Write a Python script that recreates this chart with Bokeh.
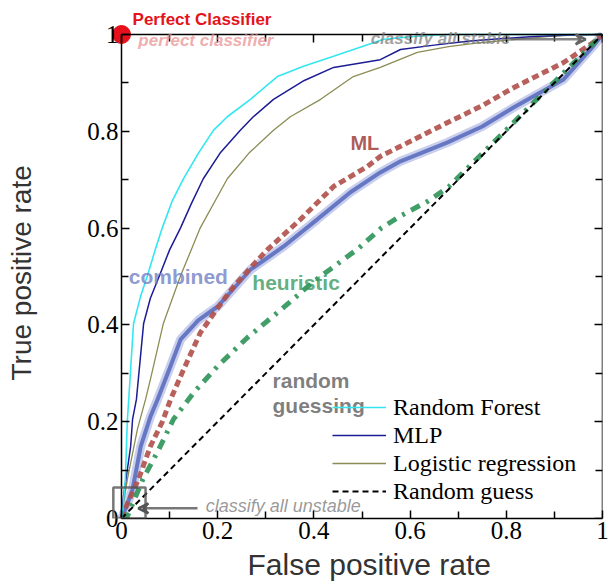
from bokeh.plotting import figure
from bokeh.models import (Label, Legend, LegendItem, FixedTicker, LinearAxis, Arrow,
                          VeeHead, BoxAnnotation, Range1d, CustomLabelingPolicy, Title)
from bokeh.embed import file_html
from bokeh.resources import INLINE

# ---- data ----
rf_fpr = [0, 0.002, 0.008, 0.012, 0.015, 0.025, 0.04, 0.054, 0.07, 0.085, 0.105, 0.129, 0.16,
          0.191, 0.22, 0.268, 0.324, 0.38, 0.441, 0.545, 0.62, 0.68, 0.8, 1.0]
rf_tpr = [0, 0.012, 0.08, 0.2, 0.246, 0.403, 0.46, 0.502, 0.555, 0.601, 0.655, 0.702, 0.755,
          0.802, 0.83, 0.866, 0.913, 0.935, 0.955, 0.99, 0.997, 1.0, 1.0, 1.0]

mlp_fpr = [0, 0.004, 0.012, 0.019, 0.023, 0.031, 0.046, 0.06, 0.079, 0.1, 0.123, 0.145, 0.17,
           0.205, 0.247, 0.274, 0.316, 0.38, 0.441, 0.538, 0.58, 0.65, 0.719, 0.8, 0.857, 0.93, 1.0]
mlp_tpr = [0, 0.045, 0.1, 0.149, 0.205, 0.246, 0.403, 0.455, 0.502, 0.555, 0.601, 0.65, 0.702,
           0.755, 0.802, 0.83, 0.866, 0.905, 0.932, 0.948, 0.969, 0.978, 0.986, 0.992, 0.996, 0.999, 1.0]

lr_fpr = [0, 0.004, 0.012, 0.033, 0.05, 0.06, 0.087, 0.123, 0.164, 0.22, 0.265, 0.316, 0.351,
          0.414, 0.482, 0.538, 0.615, 0.68, 0.746, 0.89, 0.95, 1.0]
lr_tpr = [0, 0.03, 0.08, 0.184, 0.246, 0.287, 0.403, 0.502, 0.601, 0.702, 0.755, 0.802, 0.83,
          0.866, 0.913, 0.932, 0.963, 0.975, 0.983, 0.996, 0.999, 1.0]

ml_fpr = [0, 0.012, 0.035, 0.06, 0.085, 0.102, 0.13, 0.164, 0.2, 0.233, 0.27, 0.304, 0.372,
          0.441, 0.511, 0.538, 0.58, 0.678, 0.75, 0.815, 0.919, 0.98, 1.0]
ml_tpr = [0, 0.03, 0.08, 0.149, 0.2, 0.246, 0.31, 0.384, 0.435, 0.479, 0.52, 0.556, 0.618,
          0.686, 0.727, 0.748, 0.769, 0.818, 0.853, 0.89, 0.942, 0.983, 1.0]

comb_fpr = [0, 0.01, 0.023, 0.04, 0.06, 0.075, 0.1, 0.123, 0.16, 0.2, 0.268, 0.337, 0.407,
            0.476, 0.538, 0.58, 0.678, 0.75, 0.815, 0.919, 0.98, 1.0]
comb_tpr = [0, 0.025, 0.06, 0.149, 0.21, 0.246, 0.31, 0.37, 0.41, 0.438, 0.514, 0.562, 0.618,
            0.674, 0.715, 0.738, 0.777, 0.81, 0.849, 0.907, 0.975, 1.0]

heur_fpr = [0, 0.012, 0.044, 0.075, 0.108, 0.15, 0.2, 0.262, 0.337, 0.4, 0.49, 0.54, 0.58,
            0.636, 0.68, 0.8, 0.9, 1.0]
heur_tpr = [0, 0.004, 0.08, 0.138, 0.205, 0.26, 0.315, 0.374, 0.436, 0.49, 0.556, 0.6, 0.625,
            0.655, 0.685, 0.803, 0.902, 1.0]

rand_fpr = [0, 1]
rand_tpr = [0, 1]

perfect_x = [0]
perfect_y = [1]

ticks = [0, 0.2, 0.4, 0.6, 0.8, 1]
minor_ticks = [0.1, 0.3, 0.5, 0.7, 0.9]
tick_labels = ["0", "0.2", "0.4", "0.6", "0.8", "1"]

legend_names = ["Random Forest", "MLP", "Logistic regression", "Random guess"]

x_title = "False positive rate"
y_title = "True positive rate"

# ---- figure ----
# frame slightly larger than the unit square so the corner marker is not clipped
p = figure(width=610, height=582, output_backend="svg", toolbar_location=None,
           x_range=Range1d(-0.0208, 1.0), y_range=Range1d(0, 1.0702),
           min_border_left=111, min_border_right=8, min_border_top=0, min_border_bottom=64,
           title=None)
p.background_fill_color = "white"
p.border_fill_color = "white"
p.outline_line_color = None
p.grid.visible = False

no_labels = CustomLabelingPolicy(code="for (const i of indices) indices.unset(i)")

def style_axis(ax):
    ax.ticker = FixedTicker(ticks=ticks, minor_ticks=minor_ticks)
    ax.bounds = (0, 1)
    ax.axis_line_color = "black"
    ax.axis_line_width = 1.5
    ax.major_tick_line_width = 1.5
    ax.minor_tick_line_width = 1.5
    ax.major_tick_line_color = "black"
    ax.minor_tick_line_color = "black"

def tick_only_axis(loc, **kw):
    ax = LinearAxis(major_label_policy=no_labels, major_label_text_font_size="1px",
                    major_label_standoff=0, **kw)
    style_axis(ax)
    p.add_layout(ax, loc)
    return ax

def spacer_axis(loc, size):
    # draws nothing visible; its invisible outward tick only reserves `size` pixels
    ax = LinearAxis(ticker=FixedTicker(ticks=[0.5], minor_ticks=[]), axis_line_color=None,
                    major_tick_line_color=None, minor_tick_line_color=None,
                    major_tick_in=0, major_tick_out=size, minor_tick_in=0, minor_tick_out=0,
                    major_label_standoff=0, major_label_text_font_size="1px",
                    major_label_policy=no_labels)
    p.add_layout(ax, loc)
    return ax

# bottom axis: line, inward ticks, labels
xa = p.xaxis[0]
style_axis(xa)
xa.major_label_overrides = dict(zip(ticks, tick_labels))
xa.major_tick_in = 8
xa.major_tick_out = 0
xa.minor_tick_in = 7
xa.minor_tick_out = 0
xa.major_label_text_font = "Liberation Serif"
xa.major_label_text_font_size = "25px"
xa.major_label_text_color = "black"
xa.major_label_standoff = 3
xa.axis_label = None

# left axis: only tick labels (sits at frame edge, labels pulled in to x = 0)
ya = p.yaxis[0]
ya.ticker = FixedTicker(ticks=ticks, minor_ticks=minor_ticks)
ya.axis_line_color = None
ya.major_tick_line_color = None
ya.minor_tick_line_color = None
ya.major_tick_in = 0
ya.major_tick_out = 0
ya.minor_tick_in = 0
ya.minor_tick_out = 0
ya.major_label_overrides = dict(zip(ticks, tick_labels))
ya.major_label_text_font = "Liberation Serif"
ya.major_label_text_font_size = "25px"
ya.major_label_text_color = "black"
ya.major_label_standoff = -7
ya.axis_label = None

# line + inward ticks at x = 0, x = 1 and y = 1
tick_only_axis("left", fixed_location=0, major_tick_in=8, major_tick_out=0,
               minor_tick_in=7, minor_tick_out=0)
tick_only_axis("left", fixed_location=1, major_tick_in=0, major_tick_out=8,
               minor_tick_in=0, minor_tick_out=7)
tick_only_axis("above", fixed_location=1, major_tick_in=8, major_tick_out=0,
               minor_tick_in=7, minor_tick_out=0)

# axis titles (as side titles so they can be offset along the axis)
spacer_axis("below", 2)
p.add_layout(Title(text=x_title, align="left", offset=136, standoff=0, vertical_align="top",
                   text_font="Liberation Sans", text_font_style="normal",
                   text_font_size="30px", text_color="#333333"), "below")
spacer_axis("left", 42)
p.add_layout(Title(text=y_title, align="left", offset=138, standoff=0, vertical_align="top",
                   text_font="Liberation Sans", text_font_style="normal",
                   text_font_size="28px", text_color="#333333"), "left")

# ---- background (faded) curves ----
p.line(comb_fpr, comb_tpr, line_color="#9aa6dc", line_width=9, line_alpha=0.55)
p.line(comb_fpr, comb_tpr, line_color="#6677c4", line_width=4)
p.line(ml_fpr, ml_tpr, line_color="#b0504a", line_width=5, line_dash="7 4", line_alpha=0.9)
p.line(heur_fpr, heur_tpr, line_color="#2e9458", line_width=5, line_dash="10 7 3 7", line_alpha=0.9)

# ---- foreground curves ----
r_rand = p.line(rand_fpr, rand_tpr, line_color="black", line_width=2, line_dash="6 4")
r_lr = p.line(lr_fpr, lr_tpr, line_color="#8c8c55", line_width=1.3)
r_mlp = p.line(mlp_fpr, mlp_tpr, line_color="#1c1c96", line_width=1.5)
r_rf = p.line(rf_fpr, rf_tpr, line_color="#33e6f0", line_width=1.6)

# ---- annotations from the underlying picture ----
def lab(x, y, text, color, size, style="bold", alpha=0.75):
    p.add_layout(Label(x=x, y=y, text=text, text_color=color, text_font="Liberation Sans",
                       text_font_size=size, text_font_style=style, text_alpha=alpha,
                       text_align="left", text_baseline="middle"))

lab(0.035, 0.988, "perfect classifier", "#e88a8a", "17px", "bold italic", 0.7)
lab(0.518, 0.992, "classify all stable", "#777777", "17px", "bold italic", 0.7)
lab(0.476, 0.775, "ML", "#a0403a", "20px", "bold", 0.85)
lab(0.015, 0.501, "combined", "#7080c4", "21px", "bold", 0.8)
lab(0.272, 0.487, "heuristic", "#3a9a60", "21px", "bold", 0.8)
lab(0.314, 0.285, "random", "#555555", "21px", "bold", 0.75)
lab(0.314, 0.233, "guessing", "#555555", "21px", "bold", 0.75)
lab(0.175, 0.025, "classify all unstable", "#777777", "18px", "italic", 0.75)

p.add_layout(Arrow(end=VeeHead(size=10, line_color="#555555", line_width=2.5, fill_alpha=0),
                   x_start=0.158, y_start=0.021, x_end=0.035, y_end=0.021,
                   line_color="#555555", line_width=2.5, line_alpha=0.8))
p.add_layout(Arrow(end=VeeHead(size=10, line_color="#666666", line_width=2.5, fill_alpha=0),
                   x_start=0.809, y_start=0.99, x_end=0.965, y_end=0.99,
                   line_color="#666666", line_width=2.5, line_alpha=0.8))
p.add_layout(BoxAnnotation(left=-0.017, right=0.05, bottom=0, top=0.064,
                           fill_alpha=0, line_color="#555555", line_width=2.5, line_alpha=0.8))

# ---- perfect classifier point ----
p.scatter(perfect_x, perfect_y, size=18, color="#e8101a")
p.add_layout(Label(x=0.023, y=1.03, text="Perfect Classifier",
                   text_color="#e3141b", text_font="Liberation Sans", text_font_style="bold",
                   text_font_size="17px", text_baseline="middle"))

# ---- legend ----
legend = Legend(items=[LegendItem(label=n, renderers=[r])
                       for n, r in zip(legend_names, [r_rf, r_mlp, r_lr, r_rand])],
                location=(221, 13))
legend.border_line_color = None
legend.background_fill_alpha = 0
legend.padding = 0
legend.margin = 0
legend.spacing = 0
legend.glyph_width = 54
legend.glyph_height = 28
legend.label_height = 28
legend.label_standoff = 7
legend.label_text_font = "Liberation Serif"
legend.label_text_font_size = "24px"
legend.label_text_color = "black"
p.add_layout(legend)

open("out.html", "w").write(file_html(p, INLINE))
